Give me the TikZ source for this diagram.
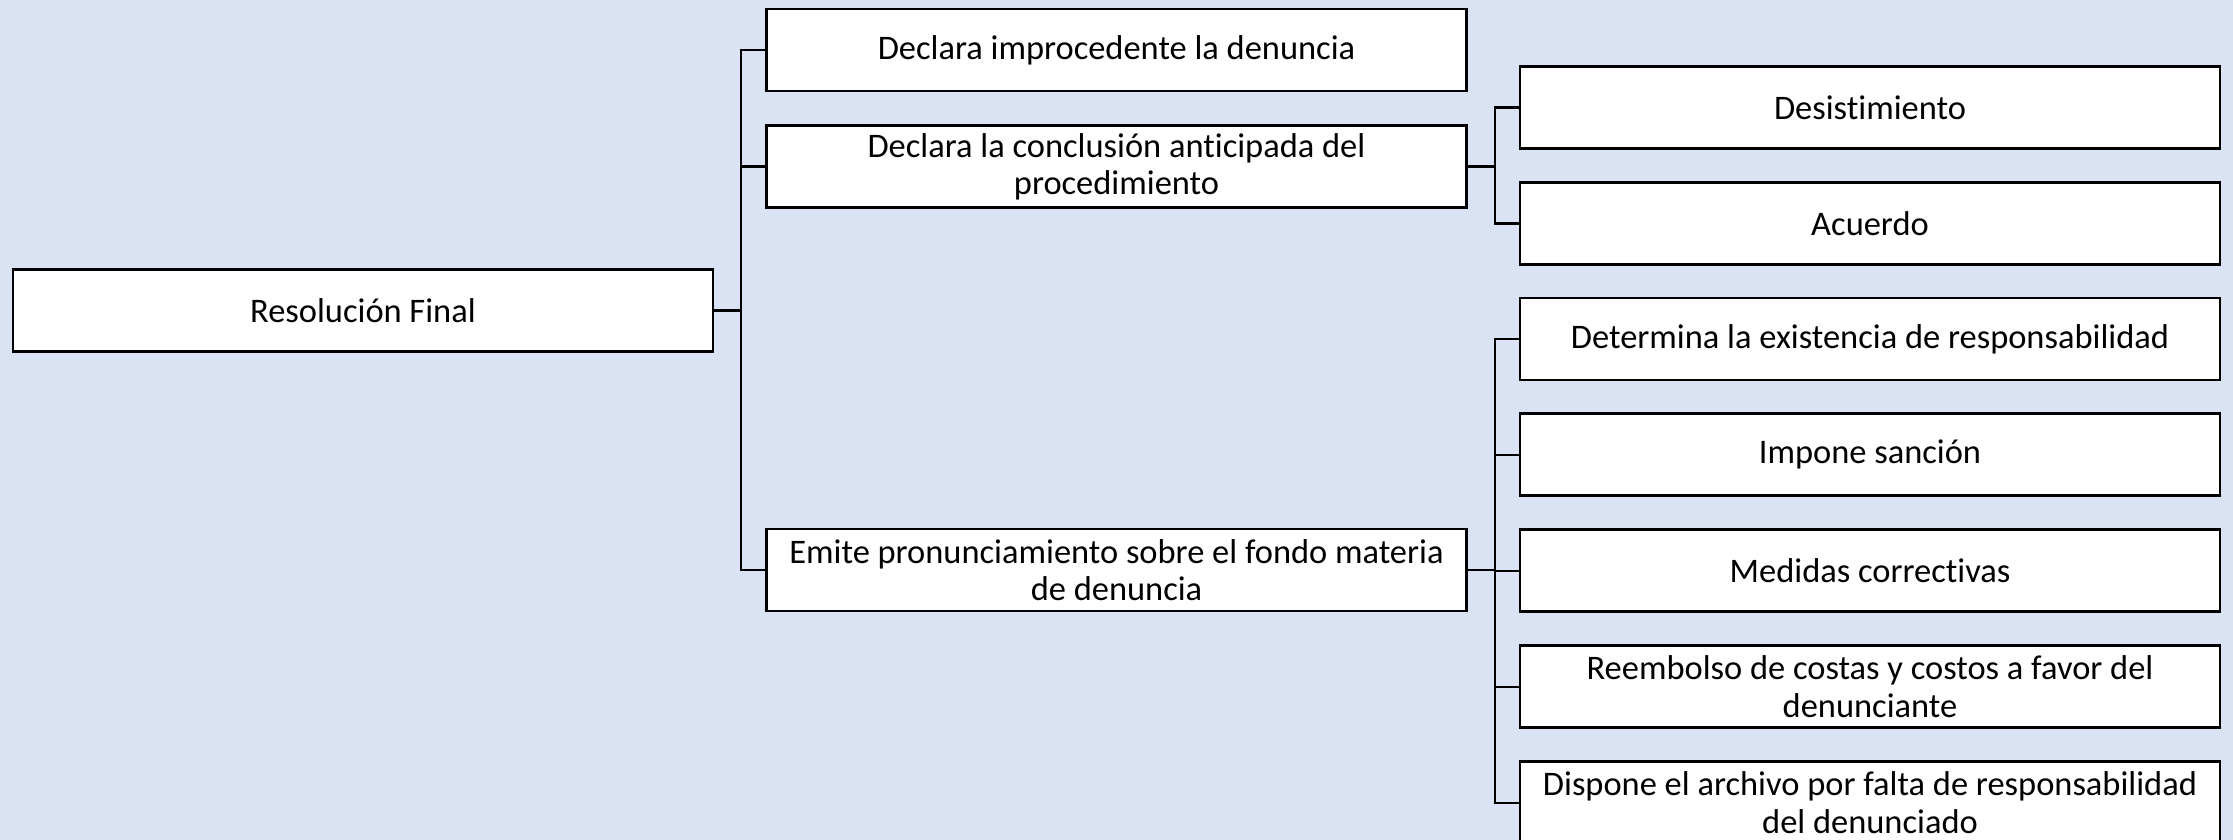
\documentclass[tikz,border=0pt]{standalone}
\usepackage{fontspec}
\setmainfont{Carlito}[Ligatures=NoCommon]
\definecolor{fondo}{RGB}{218,227,243}

\begin{document}
\begin{tikzpicture}[
    caja/.style={draw=black, fill=white, line width=0.8pt, minimum width=7cm,
        minimum height=0.82cm, inner sep=0pt, align=center,
        font=\fontsize{9.8}{10.6}\selectfont},
    rama/.style={line width=0.6pt}
]
            % Фон  (размеры 22.33x8.4)
            \fill[fondo] (0,0) rectangle (22.33,-8.4);
            \useasboundingbox (0,0) rectangle (22.33,-8.4);

            % Корень
            \node[caja] (res) at (3.63,-3.105) {Resolución Final};

            % Второй уровень
            \node[caja] (imp) at (11.165,-0.50) {Declara improcedente la denuncia};
            \node[caja] (con) at (11.165,-1.665) {Declara la conclusión anticipada del\\procedimiento};
            \node[caja] (emi) at (11.165,-5.70) {Emite pronunciamiento sobre el fondo materia\\de denuncia};

            % Третий уровень (после conclusión)
            \node[caja] (des) at (18.70,-1.075) {Desistimiento};
            \node[caja] (acu) at (18.70,-2.235) {Acuerdo};

            % Третий уровень (после emite)
            \foreach \n/\t [count=\i from 0] in {
                det/{Determina la existencia de responsabilidad},
                san/{Impone sanción},
                med/{Medidas correctivas},
                ree/{Reembolso de costas y costos a favor del\\denunciante},
                dis/{Dispone el archivo por falta de responsabilidad\\del denunciado}} {
                \node[caja] (\n) at (18.70,-3.39-1.159*\i) {\t};
            }

            % Связи
            \foreach \n in {imp,con,emi} {
                \draw[rama] (res.east) -- ++(0.265,0) |- (\n.west);
            }
            \foreach \n in {des,acu} {
                \draw[rama] (con.east) -- ++(0.27,0) |- (\n.west);
            }
            \foreach \n in {det,san,med,ree,dis} {
                \draw[rama] (emi.east) -- ++(0.27,0) |- (\n.west);
            }
        \end{tikzpicture}
\end{document}
